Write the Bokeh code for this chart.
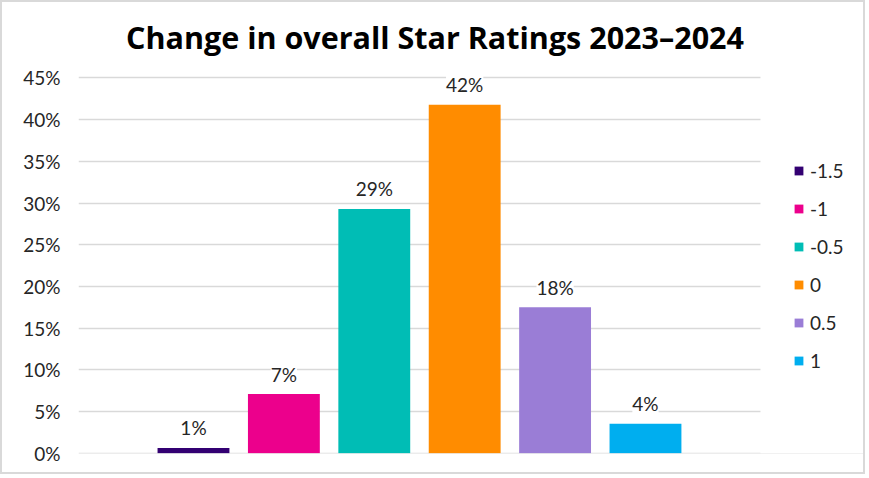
from bokeh.plotting import figure
from bokeh.models import (ColumnDataSource, LabelSet, Legend, LegendItem, FixedTicker,
                          PrintfTickFormatter, Range1d, BoxAnnotation, Label)
from bokeh.core.properties import value
from bokeh.embed import file_html
from bokeh.resources import INLINE

title_text = "Change in overall Star Ratings 2023\u20132024"
categories = ["-1.5", "-1", "-0.5", "0", "0.5", "1"]
values = [0.64, 7.1, 29.3, 41.8, 17.5, 3.55]
value_labels = ["1%", "7%", "29%", "42%", "18%", "4%"]
colors = ["#330072", "#EC008C", "#00BDB5", "#FF8C00", "#9A7DD6", "#00AEEF"]
y_ticks = [0, 5, 10, 15, 20, 25, 30, 35, 40, 45]

FONT = "Lato"

# layout: plot area spans x in [-1.272, 6.272]; the rest of the frame holds the legend.
# The frame extends above the 45% line to hold the title.
X_START, X_GRID_END, X_END = -1.272, 6.272, 7.456
Y_START, Y_END = -0.03, 54.05

src = ColumnDataSource(dict(
    x=list(range(len(categories))),
    top=values,
    cat=categories,
    color=colors,
    lab=value_labels,
))

p = figure(width=865, height=474, output_backend="svg", toolbar_location=None,
           x_range=Range1d(X_START, X_END), y_range=Range1d(Y_START, Y_END),
           min_border_left=76, min_border_right=0, min_border_top=0, min_border_bottom=23)
p.styles = {"border": "2px solid #d9d9d9"}

r = p.vbar(x="x", top="top", width=0.795, color="color", source=src, line_color=None)

labels = LabelSet(x="x", y="top", text="lab", source=src, y_offset=20,
                  text_align="center", text_baseline="middle",
                  text_font_size="19px", text_font=value(FONT), text_color="#262626",
                  background_fill_color="white")
p.add_layout(labels)

p.xaxis.visible = False
p.xgrid.grid_line_color = None
p.ygrid.grid_line_color = "#d9d9d9"
p.ygrid.grid_line_width = 1.5
p.outline_line_color = None

# blank out gridlines in the legend area
p.add_layout(BoxAnnotation(left=X_GRID_END, fill_color="white", fill_alpha=1.0, line_color=None))

p.yaxis.ticker = FixedTicker(ticks=y_ticks)
p.yaxis.formatter = PrintfTickFormatter(format="%d%%")
p.yaxis.axis_line_color = None
p.yaxis.major_tick_line_color = None
p.yaxis.minor_tick_line_color = None
p.yaxis.major_tick_in = 0
p.yaxis.major_tick_out = 0
p.yaxis.major_label_standoff = 18
p.yaxis.major_label_text_font = FONT
p.yaxis.major_label_text_font_size = "19px"
p.yaxis.major_label_text_color = "#262626"

items = [LegendItem(label=c, renderers=[r], index=i) for i, c in enumerate(categories)]
legend = Legend(items=items, location=(715, 81), orientation="vertical",
                glyph_width=11, glyph_height=11, label_standoff=6,
                label_text_font=FONT, label_text_font_size="19px", label_text_color="#262626",
                spacing=15, label_height=20, border_line_color=None, background_fill_alpha=0,
                margin=0, padding=0)
p.add_layout(legend)

title = Label(x=356.5, y=417, x_units="screen", y_units="screen", text=title_text,
              text_align="center", text_baseline="middle",
              text_font="Open Sans", text_font_size="30.5px", text_font_style="bold",
              text_color="#000000")
p.add_layout(title)

open("out.html", "w").write(file_html(p, INLINE))
